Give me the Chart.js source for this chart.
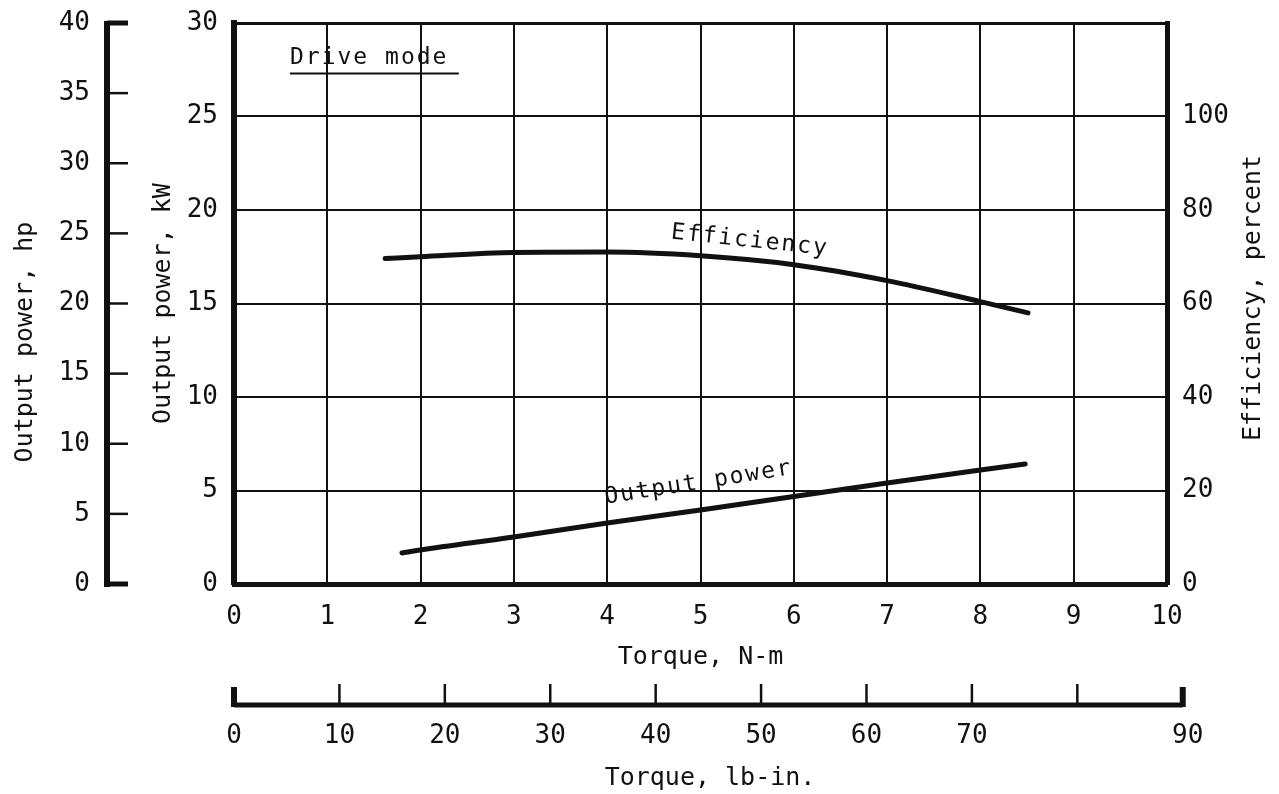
<!DOCTYPE html>
<html>
<head>
<meta charset="utf-8">
<title>Drive mode performance</title>
<script src="https://cdn.jsdelivr.net/npm/chart.js@4.4.1/dist/chart.umd.min.js"></script>
<style>
  html, body { margin: 0; padding: 0; background: #fff; }
  #wrap { width: 1279px; height: 794px; }
</style>
</head>
<body>
<div id="wrap"><canvas id="motorChart" width="1279" height="794"></canvas></div>
<script>
// Efficiency curve, torque (N-m) vs percent
var effTorque = [1.62, 2, 3, 4, 5, 6, 7, 8, 8.51];
var effPercent = [69.6, 70.0, 70.9, 71.0, 70.2, 68.3, 64.9, 60.4, 58.0];

// Output power curve, torque (N-m) vs kW
var powTorque = [1.8, 2, 3, 4, 5, 6, 7, 8, 8.48];
var powKw = [1.66, 1.82, 2.51, 3.26, 3.96, 4.68, 5.40, 6.10, 6.42];

// axis ticks
var nmTicks = [0, 1, 2, 3, 4, 5, 6, 7, 8, 9, 10];
var kwTicks = [0, 5, 10, 15, 20, 25, 30];
var effTicks = [0, 20, 40, 60, 80, 100];
var hpTicks = [0, 5, 10, 15, 20, 25, 30, 35, 40];
var lbinTicks = [0, 10, 20, 30, 40, 50, 60, 70, 80, 90];
var lbinLabels = ['0', '10', '20', '30', '40', '50', '60', '70', '', '90'];

var NM_PER_LBIN = 0.112985;
var ink = '#111';
var mono = "'DejaVu Sans Mono', monospace";

function setTicks(list) {
  return function (scale) {
    scale.ticks = list.map(function (v) { return { value: v }; });
  };
}

// fixed axis width, and no extra room asked for the end labels
function fixWidth(w) {
  return function (scale) {
    scale.width = w;
    scale.paddingTop = 0;
    scale.paddingBottom = 0;
  };
}

function rotatedText(c, text, px, py, deg) {
  c.save();
  c.translate(px, py);
  c.rotate(deg * Math.PI / 180);
  c.fillText(text, 0, 0);
  c.restore();
}

// extra scales (hp and lb-in) plus the text written on the plot
var extraAxes = {
  id: 'extraAxes',
  afterDraw: function (chart) {
    var c = chart.ctx;
    var hp = chart.scales.hp;
    var x = chart.scales.x;
    var y = chart.scales.y;
    var eff = chart.scales.eff;
    c.save();
    c.strokeStyle = ink;
    c.fillStyle = ink;
    c.lineCap = 'butt';

    // horsepower scale
    var hx = 107;
    var hTop = hp.getPixelForValue(40);
    var hBot = hp.getPixelForValue(0);
    c.lineWidth = 6;
    c.beginPath();
    c.moveTo(hx, hTop - 2);
    c.lineTo(hx, hBot + 3);
    c.stroke();
    c.font = '26px ' + mono;
    c.textAlign = 'right';
    c.textBaseline = 'middle';
    hpTicks.forEach(function (v) {
      var py = hp.getPixelForValue(v);
      c.lineWidth = (v === 0 || v === 40) ? 5 : 2.5;
      c.beginPath();
      c.moveTo(hx, py);
      c.lineTo(hx + 21, py);
      c.stroke();
      c.fillText(String(v), 90, py);
    });
    c.textAlign = 'center';
    c.font = '25px ' + mono;
    rotatedText(c, 'Output power, hp', 25, 342, -90);

    // right-hand title reads bottom to top
    rotatedText(c, 'Efficiency, percent', 1253, 298, -90);

    // lb-in torque scale under the N-m axis
    var ly = 705;
    var lx0 = x.getPixelForValue(0);
    var lx1 = x.getPixelForValue(90 * NM_PER_LBIN);
    c.lineWidth = 5;
    c.beginPath();
    c.moveTo(lx0, ly);
    c.lineTo(lx1, ly);
    c.stroke();
    c.lineWidth = 6;
    c.beginPath();
    c.moveTo(lx0, ly + 2);
    c.lineTo(lx0, ly - 18);
    c.moveTo(lx1, ly + 2);
    c.lineTo(lx1, ly - 18);
    c.stroke();
    c.font = '26px ' + mono;
    lbinTicks.forEach(function (v, i) {
      var px = x.getPixelForValue(v * NM_PER_LBIN);
      if (v > 0 && v < 90) {
        c.lineWidth = 2.5;
        c.beginPath();
        c.moveTo(px, ly);
        c.lineTo(px, ly - 21);
        c.stroke();
      }
      c.fillText(lbinLabels[i], px + (v === 90 ? 5 : 0), 736);
    });
    c.font = '25px ' + mono;
    c.fillText('Torque, lb-in.', 710, 778);

    // heading with underline
    c.letterSpacing = '2px';
    c.font = '23px ' + mono;
    c.textAlign = 'left';
    var dx = x.getPixelForValue(0.6);
    c.fillText('Drive mode', dx, y.getPixelForValue(28.1));
    c.lineWidth = 2;
    c.beginPath();
    c.moveTo(dx, y.getPixelForValue(27.3));
    c.lineTo(x.getPixelForValue(2.41), y.getPixelForValue(27.3));
    c.stroke();

    // curve names
    c.textAlign = 'center';
    c.font = '23px ' + mono;
    rotatedText(c, 'Efficiency', x.getPixelForValue(5.53), eff.getPixelForValue(73.4), 6);
    rotatedText(c, 'Output power', x.getPixelForValue(4.98), y.getPixelForValue(5.4), -9);
    c.restore();
  }
};

var ctx = document.getElementById('motorChart').getContext('2d');
var motorChart = new Chart(ctx, {
  type: 'line',
  data: {
    datasets: [{
      label: 'Efficiency',
      data: effTorque.map(function (t, i) { return { x: t, y: effPercent[i] }; }),
      yAxisID: 'eff',
      borderColor: ink,
      borderWidth: 5,
      pointRadius: 0,
      cubicInterpolationMode: 'monotone',
      borderCapStyle: 'round'
    }, {
      label: 'Output power',
      data: powTorque.map(function (t, i) { return { x: t, y: powKw[i] }; }),
      yAxisID: 'y',
      borderColor: ink,
      borderWidth: 5,
      pointRadius: 0,
      cubicInterpolationMode: 'monotone',
      borderCapStyle: 'round'
    }]
  },
  options: {
    responsive: false,
    animation: false,
    layout: { padding: { left: 120, right: 0, top: 23, bottom: 115 } },
    plugins: {
      legend: { display: false },
      tooltip: { enabled: false }
    },
    scales: {
      x: {
        type: 'linear',
        position: 'bottom',
        min: 0,
        max: 10,
        afterBuildTicks: setTicks(nmTicks),
        afterFit: function (s) { s.height = 95; },
        grid: { color: ink, lineWidth: 2, drawTicks: false },
        border: { color: ink, width: 5 },
        ticks: { color: ink, font: { family: mono, size: 26 }, padding: 18, maxRotation: 0 },
        title: {
          display: true, text: 'Torque, N-m', color: ink,
          font: { family: mono, size: 25 }, padding: { top: 0, bottom: 7 }
        }
      },
      y: {
        position: 'left',
        min: 0,
        max: 30,
        afterBuildTicks: setTicks(kwTicks),
        afterFit: fixWidth(114),
        grid: {
          color: ink,
          lineWidth: function (c) { return c.tick && c.tick.value === 30 ? 3 : 2; },
          drawTicks: false
        },
        border: { color: ink, width: 6 },
        ticks: { color: ink, font: { family: mono, size: 26 }, padding: 16 },
        title: {
          display: true, text: 'Output power, kW', color: ink,
          font: { family: mono, size: 25 }, padding: { top: 28, bottom: 0 }
        }
      },
      eff: {
        position: 'right',
        min: 0,
        max: 120,
        afterBuildTicks: setTicks(effTicks),
        afterFit: fixWidth(112),
        grid: { drawOnChartArea: false, drawTicks: false },
        border: { color: ink, width: 5 },
        ticks: { color: ink, font: { family: mono, size: 26 }, padding: 15 },
        title: { display: false }
      },
      hp: {
        position: 'left',
        min: 0,
        max: 40,
        display: false
      }
    }
  },
  plugins: [extraAxes]
});
</script>
</body>
</html>
